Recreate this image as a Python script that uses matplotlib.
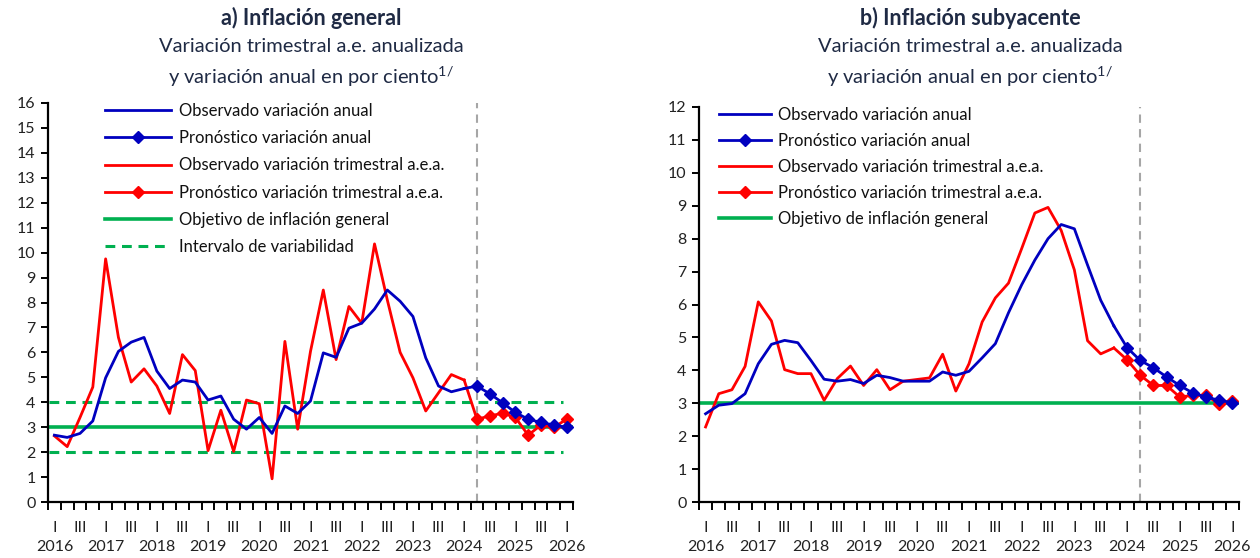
import matplotlib
matplotlib.use('Agg')
import matplotlib.pyplot as plt
from matplotlib.lines import Line2D

plt.rcParams['font.family'] = ['Lato', 'DejaVu Sans']
plt.rcParams['mathtext.fontset'] = 'custom'
plt.rcParams['mathtext.rm'] = 'Lato'

# ---------------- data ----------------
years = list(range(2016, 2027))

# a) Inflación general
gen_annual_obs = [2.68, 2.59, 2.75, 3.25, 4.98, 6.04, 6.41, 6.6, 5.25, 4.55,
                  4.89, 4.81, 4.09, 4.25, 3.32, 2.92, 3.39, 2.75, 3.85, 3.55,
                  4.05, 5.98, 5.80, 6.97, 7.17, 7.74, 8.5, 8.05, 7.44, 5.78,
                  4.65, 4.42, 4.55]
gen_annual_fc = [4.65, 4.34, 3.98, 3.59, 3.32, 3.19, 3.09, 2.99]
gen_qtr_obs = [2.65, 2.22, 3.39, 4.61, 9.75, 6.6, 4.81, 5.34, 4.65, 3.55,
               5.91, 5.27, 2.06, 3.68, 2.03, 4.09, 3.94, 0.93, 6.44, 2.92,
               6.04, 8.5, 5.71, 7.84, 7.17, 10.35, 8.1, 6.0, 4.98, 3.65,
               4.38, 5.11, 4.89]
gen_qtr_fc = [3.32, 3.45, 3.56, 3.39, 2.68, 3.09, 2.99, 3.32]
gen_target = 3.0
gen_band = [2.0, 4.0]

# b) Inflación subyacente
core_annual_obs = [2.68, 2.94, 2.99, 3.29, 4.2, 4.79, 4.91, 4.84, 4.30, 3.73,
                   3.67, 3.72, 3.6, 3.85, 3.78, 3.67, 3.67, 3.67, 3.95, 3.85,
                   3.97, 4.38, 4.81, 5.75, 6.6, 7.35, 8.0, 8.43, 8.3, 7.2,
                   6.13, 5.35]
core_annual_fc = [4.69, 4.30, 4.08, 3.8, 3.54, 3.31, 3.19, 3.09, 3.02]
core_qtr_obs = [2.28, 3.29, 3.41, 4.12, 6.08, 5.5, 4.02, 3.9, 3.9, 3.09,
                3.75, 4.13, 3.54, 4.02, 3.41, 3.67, 3.72, 3.77, 4.49, 3.37,
                4.2, 5.47, 6.2, 6.65, 7.7, 8.78, 8.95, 8.25, 7.05, 4.9,
                4.5, 4.68]
core_qtr_fc = [4.32, 3.85, 3.54, 3.54, 3.19, 3.24, 3.24, 2.97, 3.07]
core_target = 3.0

forecast_line_q = 33  # 2024 II

labels = ['Observado variación anual', 'Pronóstico variación anual',
          'Observado variación trimestral a.e.a.', 'Pronóstico variación trimestral a.e.a.',
          'Objetivo de inflación general', 'Intervalo de variabilidad']

# ---------------- style ----------------
BLUE = '#0000BF'
RED = '#FF0000'
GREEN = '#00B050'
GRAY = '#A6A6A6'
TXT = '#1F2A44'

fig = plt.figure(figsize=(12.6, 5.58), dpi=100)


def panel(ax, a_obs, a_fc, q_obs, q_fc, target, band, ymax, legend_labels,
          leg_anchor, leg_spacing, handlelen):
    nq = 41
    n_obs_a = len(a_obs)
    n_obs_q = len(q_obs)
    xa = list(range(n_obs_a))
    xq = list(range(n_obs_q))
    # green reference lines
    ax.plot([-0.4, 40.5], [target, target], color=GREEN, lw=2.6, zorder=2, solid_capstyle='butt')
    if band is not None:
        for b in band:
            ax.plot([-0.4, 39.7], [b, b], color=GREEN, lw=2.2, ls=(0, (3.2, 2.2)), zorder=2)
    # observed
    ax.plot(xa, a_obs, color=BLUE, lw=2.0, zorder=4)
    ax.plot(xq, q_obs, color=RED, lw=2.0, zorder=3)
    # forecasts (connected to last observed point)
    xfa = list(range(n_obs_a - 1, n_obs_a + len(a_fc)))
    ax.plot(xfa, [a_obs[-1]] + a_fc, color=BLUE, lw=2.0, marker='D', ms=6,
            markevery=list(range(1, len(a_fc) + 1)), zorder=4)
    xfq = list(range(n_obs_q - 1, n_obs_q + len(q_fc)))
    ax.plot(xfq, [q_obs[-1]] + q_fc, color=RED, lw=2.0, marker='D', ms=6,
            markevery=list(range(1, len(q_fc) + 1)), zorder=3)
    # vertical dashed line
    ax.axvline(forecast_line_q, color=GRAY, lw=1.5, ls=(0, (4, 3)), zorder=1)

    ax.set_xlim(-0.5, 40.5)
    ax.set_ylim(0, ymax)
    ax.set_yticks(range(0, ymax + 1))
    for s in ['top', 'right']:
        ax.spines[s].set_visible(False)
    for s in ['left', 'bottom']:
        ax.spines[s].set_linewidth(1.6)
        ax.spines[s].set_color('black')
    ax.tick_params(axis='y', direction='out', length=5, width=1.4, labelsize=11.5, pad=4,
                   labelcolor='#222222')
    major = [q for q in range(nq) if q % 2 == 0]
    lab = []
    for q in major:
        if q % 4 == 0:
            lab.append('I\n' + str(years[q // 4]))
        else:
            lab.append('III\n')
    ax.set_xticks(major)
    ax.set_xticklabels(lab, fontsize=11.5, linespacing=1.45, color='#222222')
    ax.set_xticks([q - 0.5 for q in range(nq + 1)], minor=True)
    ax.tick_params(axis='x', which='major', length=0, pad=14)
    ax.tick_params(axis='x', which='minor', direction='out', length=6, width=1.4)

    handles = [
        Line2D([], [], color=BLUE, lw=2.0),
        Line2D([], [], color=BLUE, lw=2.0, marker='D', ms=6),
        Line2D([], [], color=RED, lw=2.0),
        Line2D([], [], color=RED, lw=2.0, marker='D', ms=6),
        Line2D([], [], color=GREEN, lw=2.6),
        Line2D([], [], color=GREEN, lw=2.2, ls=(0, (3.2, 2.2))),
    ][:len(legend_labels)]
    leg = ax.legend(handles, legend_labels, loc='upper left', bbox_to_anchor=leg_anchor,
                    frameon=False, fontsize=12, handlelength=handlelen, handletextpad=0.45,
                    labelspacing=leg_spacing, borderaxespad=0, borderpad=0)
    for t in leg.get_texts():
        t.set_color('#111111')


ax1 = fig.add_axes([48 / 1260, 1 - 502 / 558, 525 / 1260, 399 / 558])
panel(ax1, gen_annual_obs, gen_annual_fc, gen_qtr_obs, gen_qtr_fc, gen_target, gen_band, 16,
      labels, (0.108, 1.0), 0.67, 4.0)

ax2 = fig.add_axes([699 / 1260, 1 - 502 / 558, 540 / 1260, 395 / 558])
panel(ax2, core_annual_obs, core_annual_fc, core_qtr_obs, core_qtr_fc, core_target, None, 12,
      labels[:5], (0.037, 1.0), 0.6, 3.1)

# titles
for xc, title in [(311 / 1260, 'a) Inflación general'), (970 / 1260, 'b) Inflación subyacente')]:
    fig.text(xc, 1 - 18 / 558, title, ha='center', va='center', fontsize=15.5, fontweight='bold',
             color=TXT)
    fig.text(xc, 1 - 47 / 558, 'Variación trimestral a.e. anualizada', ha='center', va='center',
             fontsize=14.5, color=TXT)
    fig.text(xc, 1 - 77 / 558, r'y variación anual en por ciento$^{\mathregular{1/}}$',
             ha='center', va='center', fontsize=14.5, color=TXT)

fig.savefig('out.png', dpi=100)
